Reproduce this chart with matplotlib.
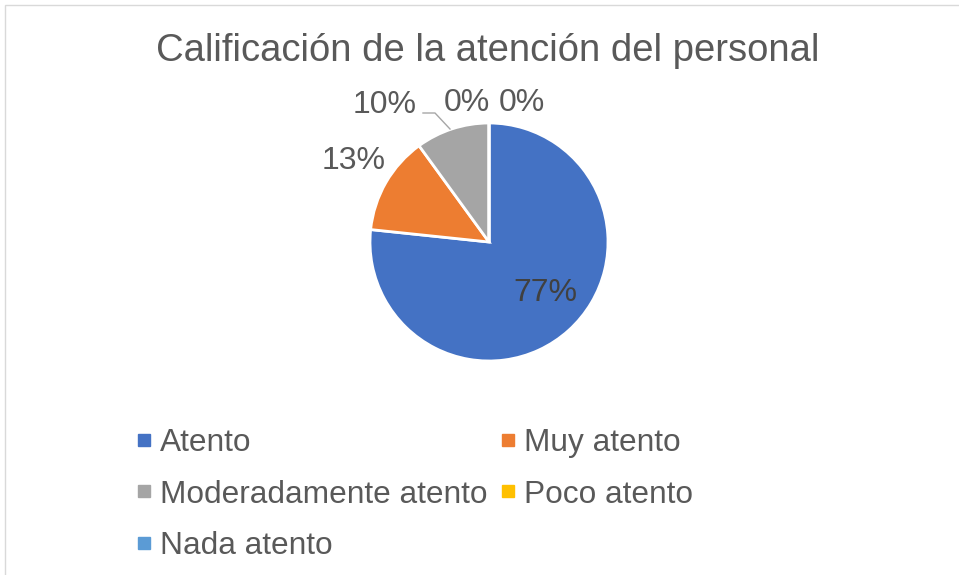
import matplotlib.pyplot as plt
from matplotlib.lines import Line2D
from matplotlib.patches import Rectangle

# datos (respuestas por categoria)
categorias = ['Atento', 'Muy atento', 'Moderadamente atento', 'Poco atento', 'Nada atento']
valores = [23, 4, 3, 0, 0]
etiquetas = ['77%', '13%', '10%', '0%', '0%']
colores = ['#4472C4', '#ED7D31', '#A5A5A5', '#FFC000', '#5B9BD5']

gris_texto = '#595959'
plt.rcParams['font.family'] = ['Liberation Sans', 'DejaVu Sans']

W, H = 959, 575
fig = plt.figure(figsize=(W / 100, H / 100), dpi=100)
ax = fig.add_axes([0, 0, 1, 1])
ax.set_xlim(0, W)
ax.set_ylim(0, H)
ax.set_aspect('equal')
ax.axis('off')

# marco del grafico
ax.add_patch(Rectangle((4.5, -10), W + 20, H - 4.5 + 10, fill=False,
                       edgecolor='#D9D9D9', lw=1))

ax.pie(valores, colors=colores, center=(489, H - 242), radius=119,
       startangle=90, counterclock=False,
       wedgeprops=dict(edgecolor='white', linewidth=2))

ax.set_xlim(0, W)
ax.set_ylim(0, H)

# titulo
ax.text(488, H - 51, 'Calificación de la atención del personal', ha='center',
        va='center', fontsize=27.5, color=gris_texto)

# etiquetas de datos
pos_etq = [(545, 293), (354, 161), (385, 105), (467, 103), (522, 103)]
col_etq = ['#404040', gris_texto, gris_texto, gris_texto, gris_texto]
for (x, y), t, c in zip(pos_etq, etiquetas, col_etq):
    ax.text(x, H - y, t, ha='center', va='center', fontsize=23, color=c)

# linea guia del 10%
ax.plot([423, 435, 450], [H - 113, H - 113, H - 129], color='#A6A6A6', lw=1)

# leyenda (orden por filas)
handles = [Line2D([], [], marker='s', ls='none', markersize=8,
                  markerfacecolor=c, markeredgecolor=c) for c in colores]
orden = [0, 2, 4, 1, 3]
fig.legend([handles[i] for i in orden], [categorias[i] for i in orden],
           ncol=2, loc='upper left', bbox_to_anchor=(137.6 / W, 1 - 428 / H),
           frameon=False, fontsize=22.8, labelcolor=gris_texto,
           handlelength=0.4, handletextpad=0.3, columnspacing=0.45,
           labelspacing=0.68, borderpad=0, borderaxespad=0)

fig.savefig('out.png', dpi=100)
